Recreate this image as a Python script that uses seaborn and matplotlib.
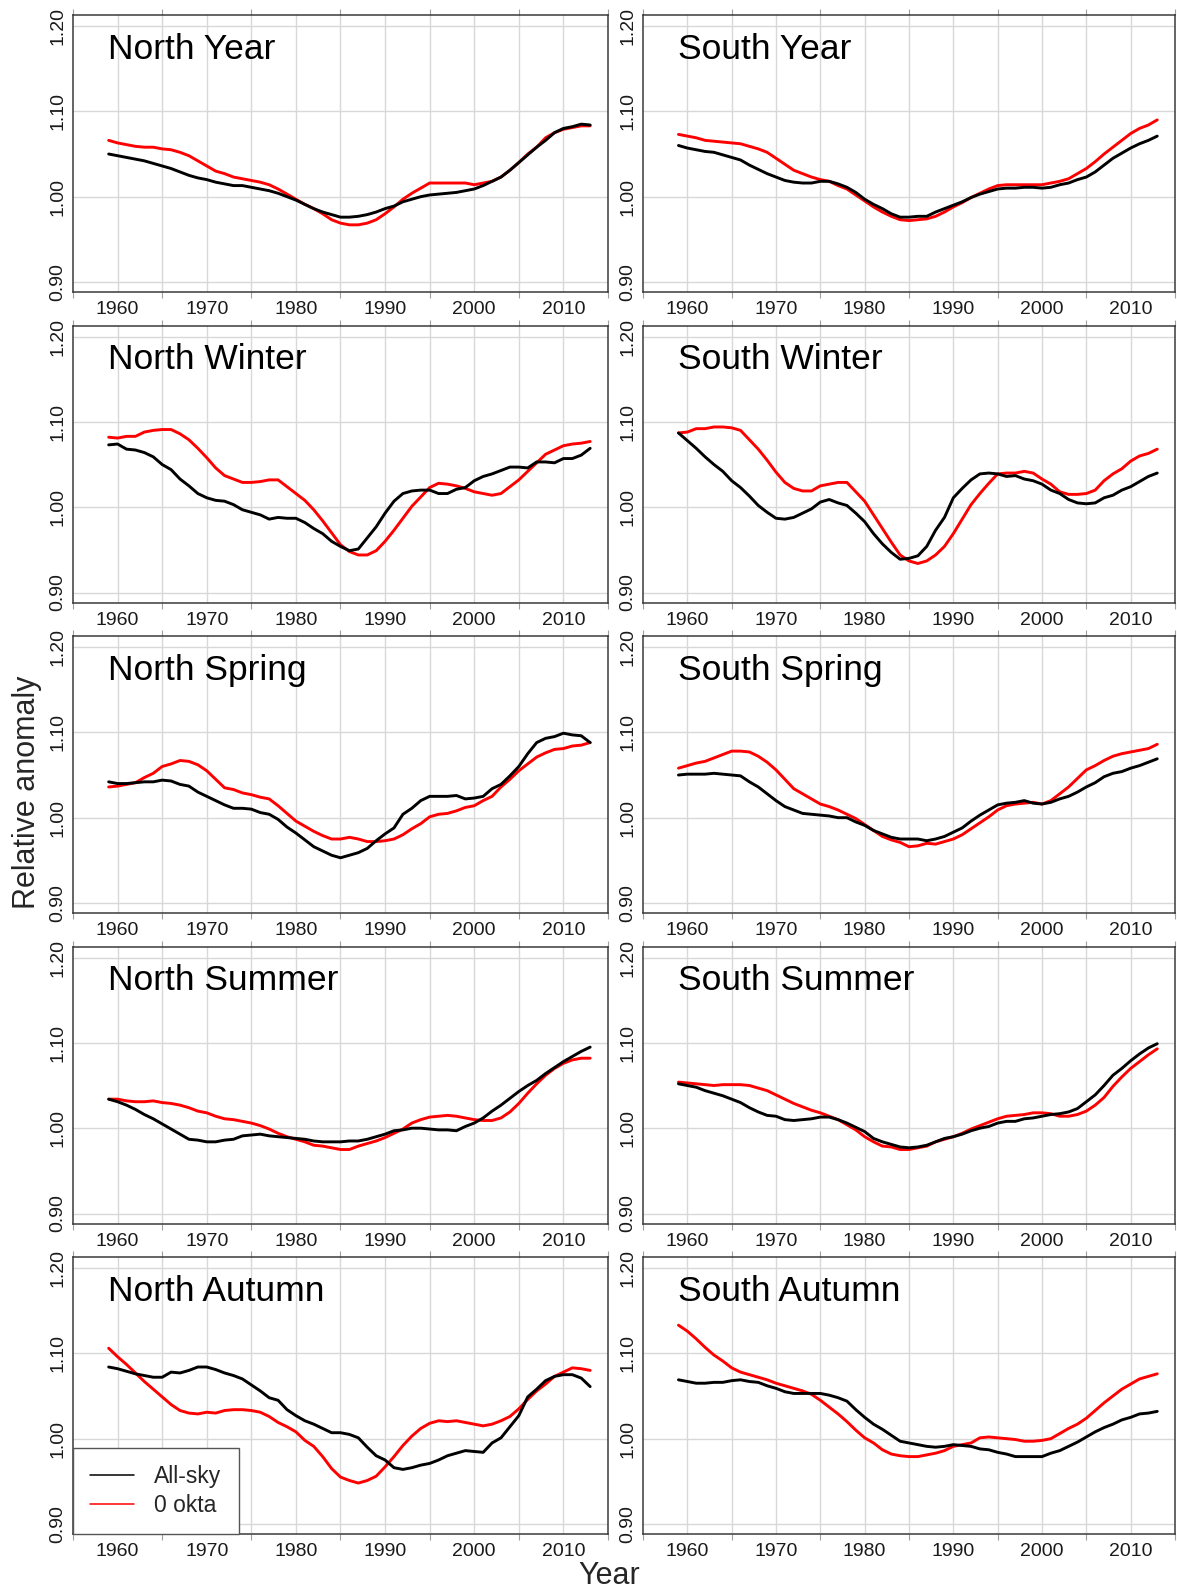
import numpy as np
import pandas as pd
import matplotlib
matplotlib.use('Agg')
import matplotlib.pyplot as plt
from matplotlib.lines import Line2D
from matplotlib.ticker import FuncFormatter
import seaborn as sns

years = list(range(1959, 2014))

north_year_allsky = [1.050,1.048,1.046,1.044,1.042,1.039,1.036,1.033,1.029,1.025,
                     1.022,1.020,1.017,1.015,1.013,1.013,1.011,1.009,1.007,1.004,
                     1.000,0.996,0.991,0.986,0.982,0.979,0.976,0.976,0.977,0.979,
                     0.982,0.986,0.989,0.994,0.997,1.000,1.002,1.003,1.004,1.005,
                     1.007,1.009,1.013,1.018,1.023,1.031,1.040,1.049,1.058,1.066,
                     1.075,1.080,1.082,1.085,1.084]
north_year_clear = [1.066,1.063,1.061,1.059,1.058,1.058,1.056,1.055,1.052,1.048,
                    1.042,1.036,1.030,1.027,1.023,1.021,1.019,1.017,1.014,1.009,
                    1.003,0.997,0.991,0.986,0.980,0.973,0.969,0.967,0.967,0.969,
                    0.973,0.980,0.988,0.997,1.004,1.010,1.016,1.016,1.016,1.016,
                    1.016,1.014,1.016,1.018,1.023,1.031,1.040,1.050,1.058,1.069,
                    1.075,1.079,1.081,1.083,1.083]
south_year_allsky = [1.060,1.057,1.055,1.053,1.052,1.049,1.046,1.043,1.037,1.032,
                     1.027,1.023,1.019,1.017,1.016,1.016,1.018,1.018,1.015,1.011,
                     1.005,0.997,0.991,0.986,0.980,0.976,0.976,0.977,0.977,0.982,
                     0.986,0.990,0.994,0.999,1.003,1.006,1.009,1.010,1.010,1.011,
                     1.011,1.010,1.011,1.014,1.016,1.020,1.023,1.029,1.037,1.045,
                     1.051,1.057,1.062,1.066,1.071]
south_year_clear = [1.073,1.071,1.069,1.066,1.065,1.064,1.063,1.062,1.059,1.056,
                    1.052,1.045,1.038,1.031,1.027,1.023,1.020,1.018,1.013,1.009,
                    1.002,0.995,0.988,0.982,0.977,0.973,0.972,0.973,0.974,0.977,
                    0.982,0.988,0.993,0.999,1.004,1.009,1.013,1.014,1.014,1.014,
                    1.014,1.014,1.016,1.018,1.021,1.027,1.033,1.041,1.050,1.058,
                    1.066,1.074,1.080,1.084,1.090]
north_winter_allsky = [1.073,1.074,1.068,1.067,1.064,1.059,1.050,1.044,1.033,1.025,
                       1.016,1.011,1.008,1.007,1.003,0.997,0.994,0.991,0.986,0.988,
                       0.987,0.987,0.982,0.975,0.969,0.960,0.954,0.949,0.951,0.964,
                       0.977,0.993,1.007,1.016,1.019,1.020,1.020,1.016,1.016,1.021,
                       1.023,1.031,1.036,1.039,1.043,1.047,1.047,1.046,1.053,1.053,
                       1.052,1.057,1.057,1.061,1.069]
north_winter_clear = [1.082,1.081,1.083,1.083,1.088,1.090,1.091,1.091,1.086,1.079,
                      1.069,1.058,1.046,1.037,1.033,1.029,1.029,1.030,1.032,1.032,
                      1.024,1.016,1.008,0.997,0.984,0.970,0.956,0.948,0.944,0.944,
                      0.949,0.960,0.973,0.987,1.001,1.012,1.023,1.028,1.027,1.025,
                      1.022,1.018,1.016,1.014,1.016,1.024,1.032,1.042,1.052,1.062,
                      1.067,1.072,1.074,1.075,1.077]
south_winter_allsky = [1.087,1.078,1.069,1.059,1.050,1.042,1.031,1.023,1.013,1.002,
                       0.994,0.987,0.986,0.988,0.993,0.998,1.006,1.009,1.005,1.002,
                       0.993,0.983,0.969,0.957,0.947,0.939,0.940,0.943,0.954,0.973,
                       0.988,1.011,1.022,1.032,1.039,1.040,1.039,1.036,1.037,1.033,
                       1.031,1.027,1.020,1.016,1.009,1.005,1.004,1.005,1.011,1.014,
                       1.020,1.024,1.030,1.036,1.040]
south_winter_clear = [1.087,1.088,1.092,1.092,1.094,1.094,1.093,1.090,1.079,1.068,
                      1.055,1.041,1.029,1.022,1.019,1.019,1.025,1.027,1.029,1.029,
                      1.018,1.007,0.991,0.975,0.959,0.944,0.937,0.934,0.937,0.944,
                      0.954,0.969,0.986,1.003,1.016,1.028,1.039,1.040,1.040,1.042,
                      1.040,1.033,1.027,1.018,1.015,1.015,1.016,1.020,1.031,1.039,
                      1.045,1.054,1.060,1.063,1.068]
north_spring_allsky = [1.042,1.040,1.040,1.041,1.042,1.042,1.044,1.043,1.039,1.037,
                       1.030,1.025,1.020,1.015,1.011,1.011,1.010,1.006,1.004,0.998,
                       0.989,0.982,0.974,0.966,0.961,0.956,0.953,0.956,0.959,0.964,
                       0.973,0.981,0.988,1.004,1.011,1.020,1.025,1.025,1.025,1.026,
                       1.022,1.023,1.025,1.034,1.039,1.049,1.060,1.075,1.088,1.093,
                       1.095,1.099,1.097,1.096,1.088]
north_spring_clear = [1.036,1.037,1.039,1.041,1.047,1.052,1.060,1.063,1.067,1.066,
                      1.062,1.055,1.045,1.035,1.033,1.029,1.027,1.024,1.022,1.014,
                      1.005,0.996,0.990,0.984,0.979,0.975,0.975,0.977,0.975,0.972,
                      0.972,0.973,0.975,0.980,0.987,0.993,1.001,1.004,1.005,1.008,
                      1.012,1.014,1.020,1.025,1.036,1.045,1.055,1.063,1.071,1.076,
                      1.080,1.081,1.084,1.085,1.088]
south_spring_allsky = [1.050,1.051,1.051,1.051,1.052,1.051,1.050,1.049,1.042,1.036,
                       1.028,1.020,1.013,1.009,1.005,1.004,1.003,1.002,1.000,1.000,
                       0.995,0.991,0.985,0.981,0.977,0.975,0.975,0.975,0.973,0.975,
                       0.978,0.983,0.988,0.996,1.003,1.009,1.015,1.017,1.018,1.020,
                       1.017,1.016,1.018,1.022,1.025,1.030,1.036,1.041,1.048,1.052,
                       1.054,1.058,1.061,1.065,1.069]
south_spring_clear = [1.058,1.061,1.064,1.066,1.070,1.074,1.078,1.078,1.077,1.072,
                      1.065,1.056,1.045,1.034,1.028,1.022,1.016,1.013,1.009,1.004,
                      0.999,0.992,0.985,0.978,0.974,0.971,0.966,0.967,0.970,0.969,
                      0.972,0.975,0.980,0.987,0.994,1.001,1.009,1.014,1.016,1.017,
                      1.018,1.016,1.020,1.028,1.036,1.046,1.056,1.061,1.067,1.072,
                      1.075,1.077,1.079,1.081,1.086]
north_summer_allsky = [1.034,1.031,1.027,1.022,1.016,1.011,1.005,0.999,0.993,0.987,
                       0.986,0.984,0.984,0.986,0.987,0.991,0.992,0.993,0.991,0.990,
                       0.989,0.988,0.987,0.985,0.984,0.984,0.984,0.985,0.985,0.987,
                       0.990,0.993,0.997,0.998,1.000,1.000,0.999,0.998,0.998,0.997,
                       1.002,1.006,1.012,1.020,1.027,1.035,1.043,1.050,1.056,1.064,
                       1.071,1.078,1.084,1.090,1.095]
north_summer_clear = [1.034,1.034,1.032,1.031,1.031,1.032,1.030,1.029,1.027,1.024,
                      1.020,1.018,1.014,1.011,1.010,1.008,1.006,1.003,0.999,0.994,
                      0.990,0.987,0.984,0.980,0.979,0.977,0.975,0.975,0.979,0.982,
                      0.985,0.989,0.994,0.999,1.006,1.010,1.013,1.014,1.015,1.014,
                      1.012,1.010,1.009,1.009,1.012,1.019,1.029,1.041,1.052,1.062,
                      1.070,1.076,1.080,1.082,1.082]
south_summer_allsky = [1.052,1.050,1.048,1.044,1.041,1.038,1.034,1.030,1.024,1.019,
                       1.015,1.014,1.010,1.009,1.010,1.011,1.013,1.013,1.010,1.006,
                       1.001,0.996,0.988,0.984,0.981,0.978,0.977,0.978,0.980,0.984,
                       0.988,0.990,0.993,0.997,1.000,1.002,1.006,1.008,1.008,1.011,
                       1.012,1.014,1.016,1.017,1.019,1.023,1.031,1.039,1.050,1.062,
                       1.070,1.079,1.087,1.094,1.099]
south_summer_clear = [1.054,1.053,1.052,1.051,1.050,1.051,1.051,1.051,1.050,1.047,
                      1.044,1.039,1.034,1.029,1.025,1.021,1.018,1.014,1.010,1.004,
                      0.998,0.990,0.984,0.979,0.978,0.975,0.975,0.977,0.979,0.984,
                      0.987,0.990,0.994,0.999,1.003,1.007,1.011,1.014,1.015,1.016,
                      1.018,1.018,1.017,1.014,1.014,1.016,1.020,1.027,1.036,1.049,
                      1.060,1.070,1.078,1.086,1.093]
north_autumn_allsky = [1.084,1.082,1.079,1.076,1.074,1.072,1.072,1.078,1.077,1.080,
                       1.084,1.084,1.081,1.077,1.074,1.070,1.063,1.056,1.048,1.045,
                       1.034,1.027,1.021,1.017,1.012,1.007,1.007,1.005,1.001,0.990,
                       0.980,0.975,0.966,0.964,0.966,0.969,0.971,0.975,0.980,0.983,
                       0.986,0.985,0.984,0.995,1.001,1.014,1.027,1.049,1.058,1.068,
                       1.073,1.075,1.075,1.071,1.061]
north_autumn_clear = [1.106,1.096,1.087,1.077,1.067,1.058,1.049,1.040,1.033,1.030,
                      1.029,1.031,1.030,1.033,1.034,1.034,1.033,1.031,1.026,1.019,
                      1.014,1.008,0.998,0.991,0.979,0.965,0.955,0.951,0.948,0.951,
                      0.956,0.967,0.979,0.992,1.003,1.012,1.018,1.021,1.020,1.021,
                      1.019,1.017,1.015,1.017,1.021,1.026,1.035,1.046,1.056,1.064,
                      1.073,1.078,1.083,1.082,1.080]
south_autumn_allsky = [1.069,1.067,1.065,1.065,1.066,1.066,1.068,1.069,1.067,1.066,
                       1.062,1.059,1.055,1.053,1.053,1.053,1.053,1.051,1.048,1.044,
                       1.034,1.025,1.017,1.011,1.004,0.997,0.995,0.993,0.991,0.990,
                       0.991,0.993,0.992,0.991,0.988,0.987,0.984,0.982,0.979,0.979,
                       0.979,0.979,0.983,0.986,0.991,0.996,1.002,1.008,1.013,1.017,
                       1.022,1.025,1.029,1.030,1.032]
south_autumn_clear = [1.133,1.126,1.117,1.107,1.098,1.091,1.083,1.078,1.075,1.072,
                      1.069,1.065,1.062,1.059,1.056,1.052,1.045,1.037,1.029,1.020,
                      1.010,1.001,0.995,0.987,0.982,0.980,0.979,0.979,0.981,0.983,
                      0.986,0.991,0.993,0.995,1.001,1.002,1.001,1.000,0.999,0.997,
                      0.997,0.998,1.000,1.006,1.012,1.017,1.024,1.033,1.042,1.050,
                      1.058,1.064,1.070,1.073,1.076]

panels = [
    ("North Year", north_year_allsky, north_year_clear),
    ("South Year", south_year_allsky, south_year_clear),
    ("North Winter", north_winter_allsky, north_winter_clear),
    ("South Winter", south_winter_allsky, south_winter_clear),
    ("North Spring", north_spring_allsky, north_spring_clear),
    ("South Spring", south_spring_allsky, south_spring_clear),
    ("North Summer", north_summer_allsky, north_summer_clear),
    ("South Summer", south_summer_allsky, south_summer_clear),
    ("North Autumn", north_autumn_allsky, north_autumn_clear),
    ("South Autumn", south_autumn_allsky, south_autumn_clear),
]
series_names = ["All-sky", "0 okta"]
series_colors = {"All-sky": "#000000", "0 okta": "#ff0000"}
x_labels = [1960, 1970, 1980, 1990, 2000, 2010]
y_ticks = [0.90, 1.00, 1.10, 1.20]

sns.set_style('white')
plt.rcParams['font.family'] = ['Liberation Sans', 'DejaVu Sans']

W, H = 1177, 1589
fig = plt.figure(figsize=(W / 100, H / 100), dpi=100)

col_x = [73, 643]
col_w = [535, 532]
row_top = [15, 325.5, 636, 946.5, 1257]
ah = 277

for i, (name, allsky, clear) in enumerate(panels):
    r, c = divmod(i, 2)
    assert len(allsky) == len(years) and len(clear) == len(years)
    ax = fig.add_axes([col_x[c] / W, 1 - (row_top[r] + ah) / H, col_w[c] / W, ah / H])
    df = pd.DataFrame({
        "Year": years * 2,
        "Value": list(clear) + list(allsky),
        "Series": ["0 okta"] * len(years) + ["All-sky"] * len(years),
    })
    sns.lineplot(data=df, x="Year", y="Value", hue="Series",
                 hue_order=["0 okta", "All-sky"], palette=series_colors,
                 linewidth=2.1, legend=False, estimator=None, ax=ax, zorder=3)
    ax.set_xlim(1955, 2015)
    ax.set_ylim(0.8883, 1.2129)
    ax.set_xlabel("")
    ax.set_ylabel("")
    ax.set_xticks(list(range(1960, 2011, 5)))
    ax.xaxis.set_major_formatter(FuncFormatter(lambda v, p: f"{int(round(v))}" if int(round(v)) in x_labels else ""))
    ax.set_xticks(list(range(1955, 2016, 10)), minor=True)
    ax.xaxis.remove_overlapping_locs = False
    ax.set_yticks(y_ticks)
    ax.set_yticklabels([f"{v:.2f}" for v in y_ticks])
    ax.grid(True, which='major', color='#d8d8d8', linewidth=1.0, zorder=0)
    ax.set_axisbelow(True)
    ax.tick_params(axis='x', which='major', length=0, pad=6.5, labelsize=14, labelcolor='#1a1a1a')
    ax.tick_params(axis='x', which='minor', length=4, width=0.8, color='#a0a0a0',
                   direction='out', top=True, bottom=True)
    ax.tick_params(axis='y', which='major', length=0, pad=5, labelsize=14,
                   labelcolor='#1a1a1a', labelrotation=90)
    for lbl in ax.get_yticklabels():
        lbl.set_va('center')
    for sp in ax.spines.values():
        sp.set_color('#3a3a3a')
        sp.set_linewidth(1.1)
    ax.text(0.066, 0.842, name, transform=ax.transAxes, fontsize=25.5,
            ha='left', va='baseline', color='#000000')
    if name == "North Autumn":
        handles = [Line2D([], [], color=series_colors[s], linewidth=1.1) for s in series_names]
        leg = ax.legend(handles, series_names, loc='lower left', bbox_to_anchor=(0, 0),
                        borderaxespad=0, fontsize=16.5, frameon=True, fancybox=False,
                        handlelength=1.9, handletextpad=0.9, labelspacing=0.25,
                        borderpad=0.75)
        leg.get_frame().set_edgecolor('#555555')
        leg.get_frame().set_linewidth(1.0)
        leg.get_frame().set_alpha(1.0)

fig.text(27 / W, 1 - 792 / H, "Relative anomaly", rotation=90, fontsize=22,
         ha='center', va='center')
fig.text(609 / W, 1 - 1584 / H, "Year", fontsize=22, ha='center', va='baseline')

fig.savefig('out.png', dpi=100)
